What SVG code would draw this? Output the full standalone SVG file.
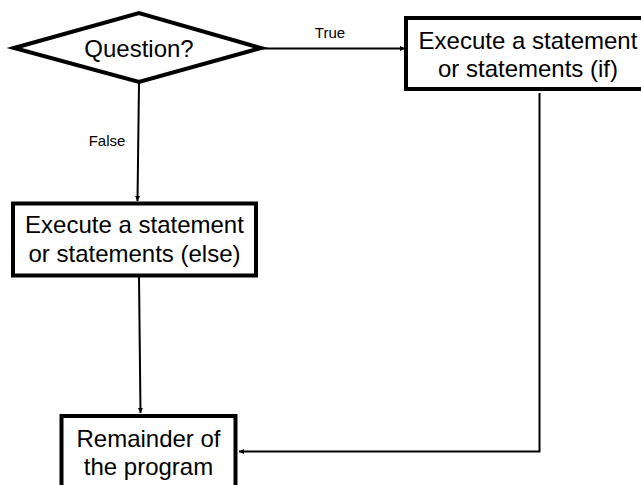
<svg xmlns="http://www.w3.org/2000/svg" width="641" height="485" viewBox="0 0 641 485">
<style>
.node{fill:#fff;stroke:#000;stroke-width:4}
.t{font-family:"Liberation Sans",Arial,sans-serif;font-size:24px;fill:#000;text-anchor:middle}
.lbl{font-family:"Liberation Sans",Arial,sans-serif;font-size:15px;fill:#000;text-anchor:middle}
.edge{fill:none;stroke:#000;stroke-width:2}
</style>
<defs>
<marker id="ah" markerUnits="userSpaceOnUse" markerWidth="6" markerHeight="6" refX="5" refY="3" orient="auto">
<path d="M0,0.5 L5,3 L0,5.5 Z" fill="#000"/>
</marker>
</defs>
<rect width="641" height="485" fill="#fff"/>
<g id="connectors">
<line class="edge" x1="262" y1="48.5" x2="405" y2="48.5" marker-end="url(#ah)"/>
<text class="lbl" x="330" y="38">True</text>
<line class="edge" x1="139" y1="83" x2="137.5" y2="201" marker-end="url(#ah)"/>
<text class="lbl" x="107" y="146">False</text>
<line class="edge" x1="139" y1="277" x2="140.5" y2="413" marker-end="url(#ah)"/>
<polyline class="edge" points="539.5,93 539.5,451.5 239,451.5" marker-end="url(#ah)"/>
</g>
<g id="question">
<polygon class="node" points="14,48 139,13 261,48 139,82"/>
<text class="t" x="139" y="57">Question?</text>
</g>
<g id="if-box">
<rect class="node" x="406" y="18" width="244" height="71"/>
<text class="t" x="528" y="49">Execute a statement</text>
<text class="t" x="528" y="77">or statements (if)</text>
</g>
<g id="else-box">
<rect class="node" x="13" y="203.5" width="243" height="72"/>
<text class="t" x="134.5" y="233">Execute a statement</text>
<text class="t" x="134.5" y="261.5">or statements (else)</text>
</g>
<g id="remainder">
<rect class="node" x="61.5" y="416" width="174" height="90"/>
<text class="t" x="148.5" y="446.5">Remainder of</text>
<text class="t" x="148.5" y="475">the program</text>
</g>
</svg>
